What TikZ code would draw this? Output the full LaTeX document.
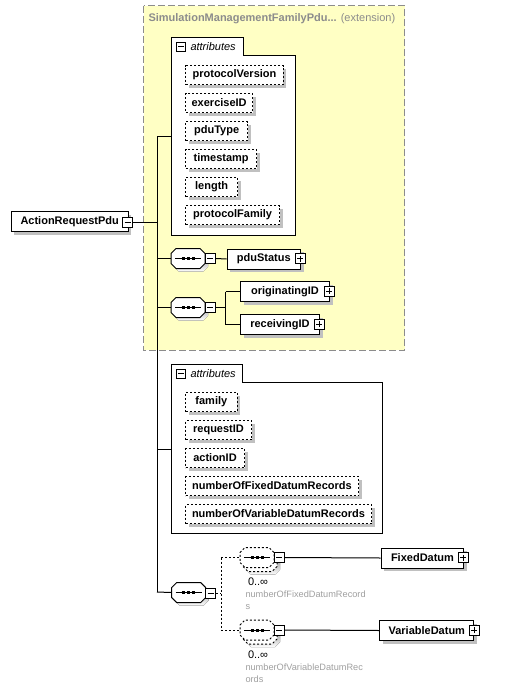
\documentclass[tikz,border=0pt]{standalone}
\usepackage{fontspec}
\setmainfont{Liberation Sans}
\usetikzlibrary{shadows}
\definecolor{extfill}{HTML}{FFFFC4}
\definecolor{extline}{HTML}{8C8C8C}
\definecolor{shade}{HTML}{C0C0C0}
\definecolor{faint}{HTML}{A0A0A0}
\newcommand\elfont{\bfseries\fontsize{11}{12}\selectfont}
\tikzset{
  shadowed/.style={drop shadow={shadow xshift=3pt,shadow yshift=-3pt,fill=shade,opacity=1}},
  elem/.style={draw, fill=white, shadowed, inner sep=0pt, minimum height=20pt, font=\elfont, anchor=north west},
  attr/.style={elem, minimum height=19pt, dash pattern=on 2pt off 2pt},
  icon/.style={draw, fill=white, minimum size=10pt, inner sep=0pt},
  minusicon/.style={icon, path picture={\draw ([xshift=-3pt]path picture bounding box.center) -- ([xshift=3pt]path picture bounding box.center);}},
  plusicon/.style={icon, path picture={\draw ([xshift=-3pt]path picture bounding box.center) -- ([xshift=3pt]path picture bounding box.center); \draw ([yshift=-3pt]path picture bounding box.center) -- ([yshift=3pt]path picture bounding box.center);}},
  container/.style={draw, fill=white},
  tabtext/.style={anchor=west, inner sep=0pt, font=\itshape\fontsize{11}{12}\selectfont},
  multtext/.style={anchor=west, inner sep=0pt, font=\fontsize{11}{12}\selectfont},
  nametext/.style={anchor=north west, inner sep=0pt, align=left, text=faint, font=\fontsize{9.2}{12}\selectfont},
  optline/.style={dash pattern=on 2pt off 2pt},
}
% sequence compositor: name, x, y, extra style for outline
\newcommand\seqsym[4]{%
  \begin{scope}[shift={(#2,#3)}]
    \fill[shade] (-14,-2) -- (-9,-7) -- (15,-7) -- (20,-2) -- (20,8) -- (15,13) -- (-9,13) -- (-14,8) -- cycle;
    \draw[fill=white,#4] (-17,-5) -- (-12,-10) -- (12,-10) -- (17,-5) -- (17,5) -- (12,10) -- (-12,10) -- (-17,5) -- cycle;
    \node[minimum width=34pt, minimum height=20pt, inner sep=0pt] (#1) at (0,0) {};
    \draw (-13,0) -- (13,0);
    \fill (-6.5,-1.5) rectangle (-3.5,1.5);
    \fill (-1.5,-1.5) rectangle (1.5,1.5);
    \fill (3.5,-1.5) rectangle (6.5,1.5);
  \end{scope}}
% repeated optional sequence
\newcommand\mseqsym[3]{%
  \begin{scope}[shift={(#2,#3)}]
    \fill[shade] (-11,2) -- (-6,-3) -- (18,-3) -- (23,2) -- (23,12) -- (18,17) -- (-6,17) -- (-11,12) -- cycle;
    \draw[fill=white,optline] (-14,-1) -- (-9,-6) -- (15,-6) -- (20,-1) -- (20,9) -- (15,14) -- (-9,14) -- (-14,9) -- cycle;
    \draw[fill=white,optline] (-17,-5) -- (-12,-10) -- (12,-10) -- (17,-5) -- (17,5) -- (12,10) -- (-12,10) -- (-17,5) -- cycle;
    \node[minimum width=34pt, minimum height=20pt, inner sep=0pt] (#1) at (0,0) {};
    \draw (-13,0) -- (13,0);
    \fill (-6.5,-1.5) rectangle (-3.5,1.5);
    \fill (-1.5,-1.5) rectangle (1.5,1.5);
    \fill (3.5,-1.5) rectangle (6.5,1.5);
  \end{scope}}
\begin{document}
\begin{tikzpicture}[x=1pt,y=-1pt,line width=1pt]
\useasboundingbox (0,0) rectangle (504,683);
\fill[white] (0,0) rectangle (504,683);

% extension box
\draw[extline, fill=extfill, dash pattern=on 7pt off 3pt] (143.5,5.5) rectangle (404.5,350);
\node[anchor=west, inner sep=0pt, text=extline, font=\fontsize{11}{12}\selectfont] (exttitle) at (148,18.5) {\textbf{SimulationManagementFamilyPdu...} (extension)};

% first attributes container
\draw[container] (171,37) -- (243,37) -- (243,55) -- (295,55) -- (295,235) -- (171,235) -- cycle;
\node[minusicon, minimum size=9pt] (am1) at (181,46.5) {};
\node[tabtext] (at1) at (190,46.5) {attributes};
\node[attr, minimum width=97.4pt] (pv) at (185.3,65) {protocolVersion};
\node[attr, minimum width=66.7pt] (ex) at (185.3,93) {exerciseID};
\node[attr, minimum width=61.7pt] (pt) at (185.3,121) {pduType};
\node[attr, minimum width=70.7pt] (ts) at (185.3,149) {timestamp};
\node[attr, minimum width=51.7pt] (ln) at (185.3,177) {length};
\node[attr, minimum width=93.7pt] (pf) at (185.3,205) {protocolFamily};
\coordinate (a1w) at (171,136);

% root element
\node[elem, minimum width=117pt] (arp) at (10.7,211) {ActionRequestPdu\hspace{4pt}};
\node[minusicon] (m0) at (127.7,222) {};

% trunk
\coordinate (tr) at (157,222);
\coordinate (trtop) at (157,136);
\coordinate (trbot) at (157,592);
\draw (m0.east) -- (tr);
\draw (trtop) -- (trbot);
\draw (trtop) -- (a1w);

% sequence 1
\seqsym{s1}{188}{258.5}{}
\node[minusicon] (ms1) at (210.3,258.5) {};
\node[elem, minimum width=73.3pt] (ps) at (226.7,248.5) {pduStatus\hspace{3pt}};
\node[plusicon] (p1) at (300,258.5) {};
\draw (tr |- s1.west) -- (s1.west);
\draw (ms1.east) -- (ps.west);

% sequence 2
\seqsym{s2}{188}{307.5}{}
\node[minusicon] (ms2) at (210.3,307.5) {};
\node[elem, minimum width=89pt] (oi) at (240,281) {originatingID\hspace{3pt}};
\node[plusicon] (p2) at (329,291) {};
\node[elem, minimum width=79pt] (ri) at (240,314) {receivingID\hspace{3pt}};
\node[plusicon] (p3) at (319,324) {};
\coordinate (b2) at (225.7,307.5);
\draw (tr |- s2.west) -- (s2.west);
\draw (ms2.east) -- (b2);
\draw (b2 |- oi.west) -- (b2 |- ri.west);
\draw (b2 |- oi.west) -- (oi.west);
\draw (b2 |- ri.west) -- (ri.west);

% second attributes container
\draw[container] (171.7,364) -- (242.7,364) -- (242.7,382.3) -- (382.7,382.3) -- (382.7,533.3) -- (171.7,533.3) -- cycle;
\node[minusicon, minimum size=9pt] (am2) at (181,373.5) {};
\node[tabtext] (at2) at (190,373.5) {attributes};
\node[attr, minimum width=51.7pt] (fa) at (185,392) {family};
\node[attr, minimum width=66pt] (rq) at (185,420) {requestID};
\node[attr, minimum width=59pt] (ac) at (185,448) {actionID};
\node[attr, minimum width=173pt] (nf) at (185,476) {numberOfFixedDatumRecords};
\node[attr, minimum width=186pt] (nv) at (185,504) {numberOfVariableDatumRecords};
\coordinate (a2w) at (171.7,449.3);
\draw (tr |- a2w) -- (a2w);

% sequence 3
\seqsym{s3}{188.7}{592.5}{}
\node[minusicon] (ms3) at (210.7,593.5) {};
\draw (trbot) -- (s3.west);
\coordinate (b3) at (221,593.5);
\draw[optline] (ms3.east) -- (b3);

\mseqsym{d1}{257}{557.5}
\node[minusicon] (md1) at (279.3,557.5) {};
\mseqsym{d2}{257}{630}
\node[minusicon] (md2) at (279.3,630) {};
\draw[optline] (b3 |- d1.west) -- (b3 |- d2.west);
\draw[optline] (b3 |- d1.west) -- (d1.west);
\draw[optline] (b3 |- d2.west) -- (d2.west);

\node[elem, minimum width=82.6pt] (fd) at (380.7,547.5) {FixedDatum\hspace{3pt}};
\node[plusicon] (p4) at (463.3,557.5) {};
\node[elem, minimum width=94pt] (vd) at (379.3,620) {VariableDatum\hspace{3pt}};
\node[plusicon] (p5) at (474,630) {};
\draw (md1.east) -- (fd.west);
\draw (md2.east) -- (vd.west);

\node[multtext] (c1) at (247.5,582) {0..∞};
\node[nametext] (n1) at (245,590) {numberOfFixedDatumRecord\\s};
\node[multtext] (c2) at (247.5,654.5) {0..∞};
\node[nametext] (n2) at (245,663) {numberOfVariableDatumRec\\ords};
\end{tikzpicture}
\end{document}
